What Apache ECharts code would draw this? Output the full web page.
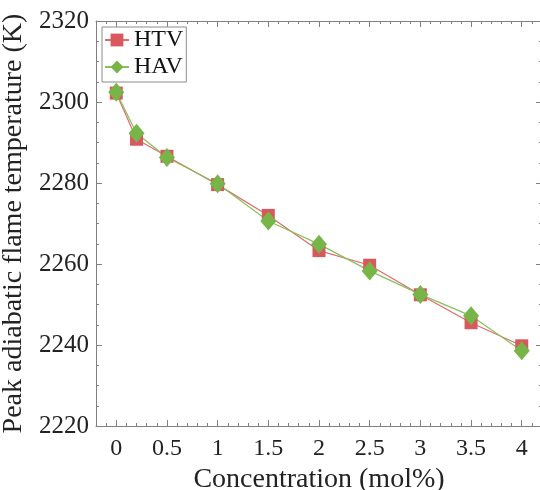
<!DOCTYPE html>
<html>
<head>
<meta charset="utf-8">
<script src="https://cdn.jsdelivr.net/npm/echarts@6/dist/echarts.min.js"></script>
<style>
  html, body { margin: 0; padding: 0; background: #fff; }
  #main { width: 540px; height: 490px; }
</style>
</head>
<body>
<div id="main"></div>
<script>
// 数据
var concentration = [0, 0.2, 0.5, 1, 1.5, 2, 2.5, 3, 3.5, 4];
var htv = [2302.2, 2290.8, 2286.6, 2279.6, 2272.0, 2263.3, 2259.7, 2252.4, 2245.5, 2239.8];
var hav = [2302.4, 2292.3, 2286.3, 2279.8, 2270.6, 2264.9, 2258.3, 2252.5, 2247.2, 2238.6];
var xTicks = [0, 0.5, 1, 1.5, 2, 2.5, 3, 3.5, 4];

var font = 'Liberation Serif';
var axisColor = '#808080';

var myChart = echarts.init(document.getElementById('main'));

function pairs(ys) {
    return concentration.map(function (x, i) { return [x, ys[i]]; });
}

// 主刻度轴
function majorX(pos, showLabel) {
    return {
        type: 'value',
        position: pos,
        min: -0.2,
        max: 4.2,
        axisLine: { show: true, onZero: false, lineStyle: { color: axisColor, width: 1 } },
        axisTick: { show: true, inside: true, length: 6, customValues: xTicks, lineStyle: { color: axisColor } },
        axisLabel: {
            show: showLabel, customValues: xTicks, margin: 11,
            fontFamily: font, fontSize: 24, color: '#222'
        },
        splitLine: { show: false },
        name: showLabel ? 'Concentration (mol%)' : '',
        nameLocation: 'middle',
        nameGap: 39,
        nameTextStyle: { fontFamily: font, fontSize: 28, color: '#222' }
    };
}

// 次刻度轴
function minorX(pos) {
    return {
        type: 'value',
        position: pos,
        min: -0.2,
        max: 4.2,
        interval: 0.1,
        axisLine: { show: false, onZero: false },
        axisTick: { show: true, inside: true, length: 3, lineStyle: { color: axisColor } },
        axisLabel: { show: false },
        splitLine: { show: false }
    };
}

function yAxisOf(pos, showLabel) {
    return {
        type: 'value',
        position: pos,
        min: 2220,
        max: 2320,
        interval: 20,
        axisLine: { show: true, onZero: false, lineStyle: { color: axisColor, width: 1 } },
        axisTick: { show: true, inside: true, length: 6, lineStyle: { color: axisColor } },
        minorTick: { show: true, splitNumber: 4, length: 3, lineStyle: { color: axisColor } },
        axisLabel: {
            show: showLabel, margin: 7, fontFamily: font, fontSize: 25, color: '#222',
            formatter: function (v) { return String(v); }
        },
        splitLine: { show: false },
        name: showLabel ? 'Peak adiabatic flame temperature (K)' : '',
        nameLocation: 'middle',
        nameGap: 46,
        nameTextStyle: { fontFamily: font, fontSize: 28, color: '#222' }
    };
}

var option = {
    animation: false,
    backgroundColor: '#fff',
    grid: { left: 96, right: -2, top: 21, bottom: 64, containLabel: false, outerBoundsMode: 'none' },
    legend: {
        orient: 'vertical',
        left: 102,
        top: 27,
        padding: [1, 3, 3, 2],
        itemGap: 3,
        itemWidth: 24,
        itemHeight: 16,
        itemTextGap: 4,
        borderColor: '#8c8c8c',
        borderWidth: 1,
        textStyle: { fontFamily: font, fontSize: 24, lineHeight: 24, color: '#111' },
        data: ['HTV', 'HAV']
    },
    xAxis: [majorX('bottom', true), minorX('bottom'), majorX('top', false), minorX('top')],
    yAxis: [yAxisOf('left', true), yAxisOf('right', false)],
    series: [
        {
            name: 'HTV',
            type: 'line',
            xAxisIndex: 0,
            yAxisIndex: 0,
            data: pairs(htv),
            symbol: 'rect',
            symbolSize: 13,
            itemStyle: { color: '#d9585e' },
            lineStyle: { color: '#e06a6f', width: 1.2 }
        },
        {
            name: 'HAV',
            type: 'line',
            xAxisIndex: 0,
            yAxisIndex: 0,
            data: pairs(hav),
            symbol: 'diamond',
            symbolSize: [16, 19],
            itemStyle: { color: '#78b548' },
            lineStyle: { color: '#86c25a', width: 1.2 }
        }
    ]
};

myChart.setOption(option);
</script>
</body>
</html>
